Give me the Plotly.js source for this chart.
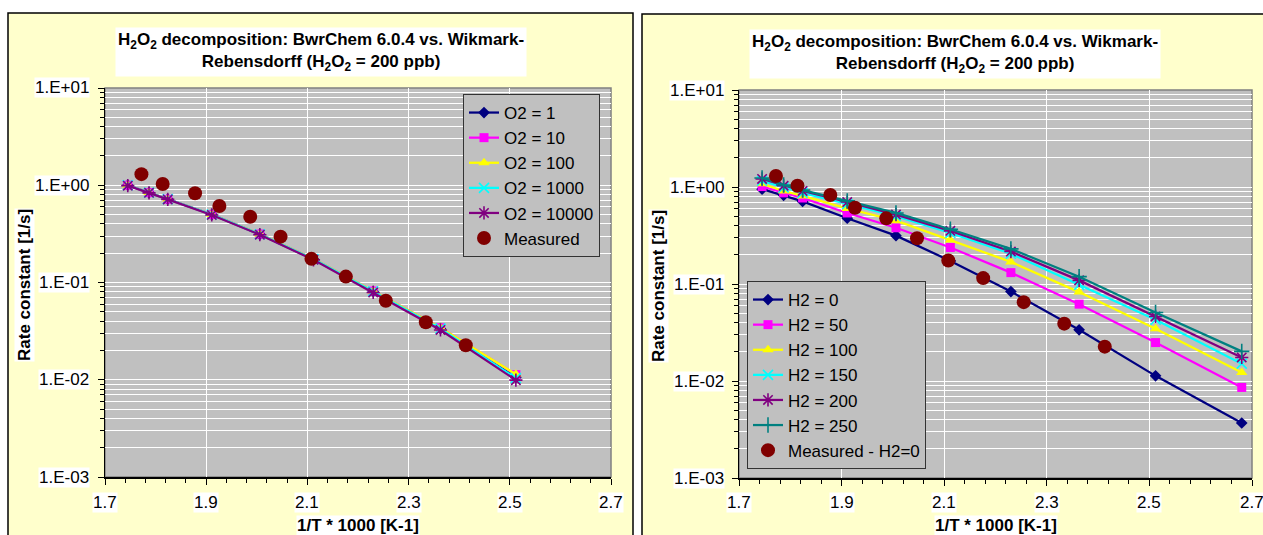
<!DOCTYPE html>
<html>
<head>
<meta charset="utf-8">
<script src="https://cdn.plot.ly/plotly-3.0.1.min.js"></script>
<style>html,body{margin:0;padding:0;background:#fff;}#chart{width:1263px;height:535px;}</style>
</head>
<body>
<div id="chart"></div>
<script>
// ---------- data ----------
const xModelLeft = [1.745, 1.787, 1.824, 1.911, 2.006, 2.112, 2.230, 2.363, 2.512];
const o2_1     = [1.00, 0.84, 0.72, 0.50, 0.313, 0.173, 0.081, 0.0335, 0.0106];
const o2_10    = [1.00, 0.84, 0.72, 0.50, 0.315, 0.175, 0.082, 0.0342, 0.0113];
const o2_100   = [1.00, 0.84, 0.72, 0.50, 0.315, 0.175, 0.082, 0.0342, 0.0114];
const o2_1000  = [1.00, 0.84, 0.72, 0.50, 0.313, 0.174, 0.081, 0.0335, 0.0104];
const o2_10000 = [0.99, 0.835, 0.715, 0.495, 0.310, 0.171, 0.079, 0.0325, 0.0099];

const xModelRight = [1.745, 1.787, 1.824, 1.911, 2.006, 2.112, 2.230, 2.363, 2.512, 2.680];
const h2_0   = [0.95, 0.82, 0.71, 0.477, 0.315, 0.173, 0.0836, 0.0337, 0.0113, 0.00369];
const h2_50  = [1.01, 0.87, 0.77, 0.54, 0.38, 0.238, 0.131, 0.062, 0.0249, 0.00858];
const h2_100 = [1.08, 0.91, 0.81, 0.60, 0.45, 0.285, 0.169, 0.0825, 0.0345, 0.0122];
const h2_150 = [1.16, 0.99, 0.87, 0.67, 0.50, 0.336, 0.205, 0.098, 0.0428, 0.0151];
const h2_200 = [1.21, 1.03, 0.91, 0.70, 0.52, 0.353, 0.216, 0.109, 0.0463, 0.0175];
const h2_250 = [1.24, 1.05, 0.93, 0.72, 0.54, 0.367, 0.230, 0.119, 0.0508, 0.0202];

const xMeasured = [1.772, 1.814, 1.878, 1.926, 1.987, 2.047, 2.108, 2.176, 2.255, 2.334, 2.413];
const yMeasured = [1.30, 1.03, 0.826, 0.612, 0.475, 0.296, 0.175, 0.115, 0.065, 0.039, 0.0226];

const namesLeft  = ['O2 = 1', 'O2 = 10', 'O2 = 100', 'O2 = 1000', 'O2 = 10000', 'Measured'];
const namesRight = ['H2 = 0', 'H2 = 50', 'H2 = 100', 'H2 = 150', 'H2 = 200', 'H2 = 250', 'Measured - H2=0'];

const xTickVals = [1.7, 1.9, 2.1, 2.3, 2.5, 2.7];
const xTickText = ['1.7', '1.9', '2.1', '2.3', '2.5', '2.7'];
const yTickVals = [10, 1, 0.1, 0.01, 0.001];
const yTickText = ['1.E+01', '1.E+00', '1.E-01', '1.E-02', '1.E-03'];

const titleText = '<b>H<sub>2</sub>O<sub>2</sub> decomposition: BwrChem 6.0.4 vs. Wikmark-<br>Rebensdorff (H<sub>2</sub>O<sub>2</sub> = 200 ppb)</b>';
const xTitle = '<b>1/T * 1000 [K-1]</b>';
const yTitle = '<b>Rate constant [1/s]</b>';

// ---------- styles ----------
const W = 1263, H = 535;
const FONT = 'Liberation Sans, Arial, Helvetica, sans-serif';
const seriesStyle = [
  {color: '#000080', symbol: 'diamond', size: 9, open: false},
  {color: '#FF00FF', symbol: 'square', size: 9, open: false},
  {color: '#FFFF00', symbol: 'triangle-up', size: 10, open: false},
  {color: '#00FFFF', symbol: 'x-thin-open', size: 10, open: true},
  {color: '#800080', symbol: 'asterisk-open', size: 11, open: true},
  {color: '#008080', symbol: 'cross-thin-open', size: 11, open: true}
];
const measuredColor = '#800000';

function modelTrace(x, y, name, st, xa, ya, lg) {
  return {
    x: x, y: y, name: name, type: 'scatter', mode: 'lines+markers',
    xaxis: xa, yaxis: ya, legend: lg,
    line: {color: st.color, width: 2.25},
    marker: st.open
      ? {symbol: st.symbol, size: st.size, color: st.color, line: {color: st.color, width: 1.6}}
      : {symbol: st.symbol, size: st.size, color: st.color, line: {width: 0}}
  };
}
function measuredTrace(name, xa, ya, lg) {
  return {
    x: xMeasured, y: yMeasured, name: name, type: 'scatter', mode: 'markers',
    xaxis: xa, yaxis: ya, legend: lg,
    marker: {symbol: 'circle', size: 14, color: measuredColor, line: {width: 0}}
  };
}

const leftSeries = [o2_1, o2_10, o2_100, o2_1000, o2_10000];
const rightSeries = [h2_0, h2_50, h2_100, h2_150, h2_200, h2_250];
const data = [];
leftSeries.forEach((s, i) => data.push(modelTrace(xModelLeft, s, namesLeft[i], seriesStyle[i], 'x', 'y', 'legend')));
data.push(measuredTrace(namesLeft[5], 'x', 'y', 'legend'));
rightSeries.forEach((s, i) => data.push(modelTrace(xModelRight, s, namesRight[i], seriesStyle[i], 'x2', 'y2', 'legend2')));
data.push(measuredTrace(namesRight[6], 'x2', 'y2', 'legend2'));

// minor log tick positions
const yMinor = [];
for (let d = -3; d < 1; d++) for (let m = 2; m <= 9; m++) yMinor.push(m * Math.pow(10, d));

function xAxis(domain, anchor) {
  return {
    domain: domain, anchor: anchor, range: [1.7, 2.7], type: 'linear',
    tickmode: 'linear', tick0: 1.7, dtick: 0.2, showticklabels: false,
    ticks: 'outside', ticklen: 6, tickwidth: 1, tickcolor: '#000',
    showline: true, linecolor: '#000', linewidth: 1.5,
    showgrid: true, gridcolor: '#FFFFFF', gridwidth: 1, zeroline: false,
    minor: {tickmode: 'linear', tick0: 1.7, dtick: 0.04, ticks: 'outside', ticklen: 4, tickwidth: 1, tickcolor: '#000', showgrid: false},
    automargin: false, fixedrange: true
  };
}
function yAxis(domain, anchor) {
  return {
    domain: domain, anchor: anchor, type: 'log', range: [-3, 1],
    tickmode: 'array', tickvals: yTickVals, showticklabels: false,
    ticks: 'outside', ticklen: 6, tickwidth: 1, tickcolor: '#000',
    showline: true, linecolor: '#000', linewidth: 1.5,
    showgrid: true, gridcolor: '#FFFFFF', gridwidth: 1, zeroline: false,
    minor: {tickmode: 'array', tickvals: yMinor, ticks: 'outside', ticklen: 4, tickwidth: 1, tickcolor: '#000', showgrid: true, gridcolor: '#FFFFFF', gridwidth: 1},
    automargin: false, fixedrange: true
  };
}

const annFont = {family: FONT, size: 17, color: '#000'};
const annotations = [];
function addPanelText(xa, ya, yLabelRightPx, titleCxPx, titleCyPx, yTitleCxPx, yTitleCy, xTitleCx) {
  xTickVals.forEach((v, i) => annotations.push({
    xref: xa, yref: 'paper', x: v, y: 1 - 502 / H, xanchor: 'center', yanchor: 'middle',
    text: xTickText[i], showarrow: false, bgcolor: '#FFFFFF', borderpad: 0, font: annFont
  }));
  yTickVals.forEach((v, i) => annotations.push({
    xref: 'paper', yref: ya, x: yLabelRightPx / W, y: Math.log10(v), xanchor: 'right', yanchor: 'middle',
    text: yTickText[i], showarrow: false, bgcolor: '#FFFFFF', borderpad: 0, font: annFont
  }));
  annotations.push({
    xref: 'paper', yref: 'paper', x: titleCxPx / W, y: 1 - titleCyPx / H, xanchor: 'center', yanchor: 'middle',
    text: titleText, showarrow: false, bgcolor: '#FFFFFF', borderpad: 2, font: {family: FONT, size: 17, color: '#000'}
  });
  annotations.push({
    xref: 'paper', yref: 'paper', x: yTitleCxPx / W, y: 1 - yTitleCy / H, xanchor: 'center', yanchor: 'middle',
    text: yTitle, textangle: -90, showarrow: false, bgcolor: '#FFFFFF', borderpad: 0, font: annFont
  });
  annotations.push({
    xref: 'paper', yref: 'paper', x: xTitleCx / W, y: 1 - 525 / H, xanchor: 'center', yanchor: 'middle',
    text: xTitle, showarrow: false, bgcolor: '#FFFFFF', borderpad: 0, font: annFont
  });
}
addPanelText('x', 'y', 90, 320.5, 52, 24, 285, 358);
addPanelText('x2', 'y2', 725, 954.5, 54, 658, 286, 995.5);

const shapes = [
  {type: 'rect', xref: 'paper', yref: 'paper', x0: 8 / W, x1: 633 / W, y0: -0.1, y1: 1 - 13 / H,
   fillcolor: '#FFFFCC', line: {color: '#000', width: 1.5}, layer: 'below'},
  {type: 'rect', xref: 'paper', yref: 'paper', x0: 642 / W, x1: 1.1, y0: -0.1, y1: 1 - 14 / H,
   fillcolor: '#FFFFCC', line: {color: '#000', width: 1.5}, layer: 'below'},
  {type: 'rect', xref: 'x domain', yref: 'y domain', x0: 0, x1: 1, y0: 0, y1: 1,
   fillcolor: '#C0C0C0', line: {color: '#808080', width: 1.5}, layer: 'below'},
  {type: 'rect', xref: 'x2 domain', yref: 'y2 domain', x0: 0, x1: 1, y0: 0, y1: 1,
   fillcolor: '#C0C0C0', line: {color: '#808080', width: 1.5}, layer: 'below'}
];

const legendBase = {
  xanchor: 'left', yanchor: 'top', bgcolor: '#C0C0C0', bordercolor: '#333333', borderwidth: 1,
  font: {family: FONT, size: 17, color: '#000'}, tracegroupgap: 0, itemwidth: 30, traceorder: 'normal'
};

const layout = {
  width: W, height: H, autosize: false,
  margin: {l: 0, r: 0, t: 0, b: 0, pad: 0},
  paper_bgcolor: '#FFFFFF', plot_bgcolor: 'rgba(0,0,0,0)',
  font: {family: FONT, size: 17, color: '#000'},
  showlegend: true,
  xaxis: xAxis([105 / W, 611 / W], 'y'),
  yaxis: yAxis([1 - 477 / H, 1 - 88 / H], 'x'),
  xaxis2: xAxis([739 / W, 1252 / W], 'y2'),
  yaxis2: yAxis([1 - 478 / H, 1 - 90 / H], 'x2'),
  legend: Object.assign({}, legendBase, {x: 463 / W, y: 1 - 94 / H}),
  legend2: Object.assign({}, legendBase, {x: 747 / W, y: 1 - 281 / H}),
  annotations: annotations,
  shapes: shapes,
  hovermode: false
};

Plotly.newPlot('chart', data, layout, {staticPlot: true, displayModeBar: false});
</script>
</body>
</html>
